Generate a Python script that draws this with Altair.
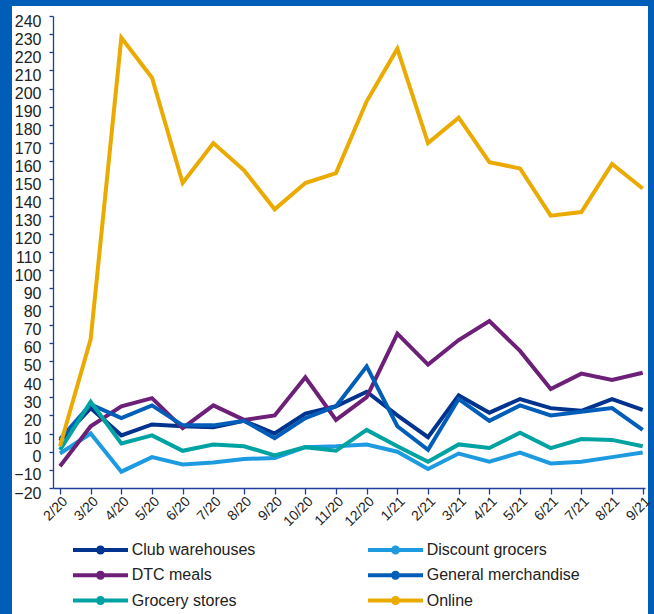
import altair as alt
import pandas as pd

# Month labels on the x axis
months = ["2/20", "3/20", "4/20", "5/20", "6/20", "7/20", "8/20", "9/20", "10/20",
          "11/20", "12/20", "1/21", "2/21", "3/21", "4/21", "5/21", "6/21", "7/21",
          "8/21", "9/21"]

# Channel series (% change)
club_warehouses = [6, 24, 9, 15, 14, 13.5, 17, 10, 21, 25, 33, 20, 8, 31, 21.5, 29, 24, 22.5, 29, 23]
discount_grocers = [-1, 10, -11, -3, -7, -6, -4, -3.5, 2.5, 3, 4, 0, -9.5, -1, -5.5, -0.5, -6.5, -5.5, -3, -0.5]
dtc_meals = [-8, 14, 25, 29.5, 13, 25.5, 17.5, 20, 41, 17.5, 30, 65, 48, 61.5, 72, 55.5, 34.5, 43, 39.5, 43.5]
general_merchandise = [7, 26, 18.5, 25.5, 14.5, 14.5, 17, 7.5, 18.5, 25, 47, 14, 1, 29, 17, 25.5, 20, 22, 24, 12]
grocery_stores = [1, 27.5, 4.5, 9, 0.5, 4, 3, -2, 2.5, 0.5, 12, 3, -5.5, 4, 2, 10.5, 2, 7, 6.5, 3]
online = [3, 62, 228, 206, 148, 170, 155, 133.5, 148, 153.5, 193, 222, 170, 184, 159.5, 156, 130, 132, 158.5, 145]

series_names = ["Club warehouses", "Discount grocers", "DTC meals",
                "General merchandise", "Grocery stores", "Online"]
series_values = [club_warehouses, discount_grocers, dtc_meals,
                 general_merchandise, grocery_stores, online]
series_colors = ["#00338D", "#1E9BE0", "#6D2077", "#005EB8", "#00A3A1", "#EAAA00"]

# Legend fills its grid column by column, so list the names in that order
legend_order = [0, 2, 4, 1, 3, 5]
domain = [series_names[i] for i in legend_order]
palette = [series_colors[i] for i in legend_order]

y_ticks = list(range(-20, 241, 10))

rows = []
for name, vals in zip(series_names, series_values):
    for m, v in zip(months, vals):
        rows.append({"month": m, "channel": name, "value": v})
df = pd.DataFrame(rows)

FONT = "Liberation Sans"
AXIS_BLUE = "#1F3F99"
TEXT = "#222222"
FRAME = "#005EB8"

# Legend symbol: a short line with a dot in the middle (filled outline)
legend_symbol = ("M-1,-0.18L4,-0.18L4,0.18L-1,0.18Z"
                 "M1.09,0A0.41,0.41 0 1,1 1.91,0A0.41,0.41 0 1,1 1.09,0Z")

x_enc = alt.X("month:O", sort=months,
              scale=alt.Scale(type="point", padding=0.1516, align=0.753),
              axis=alt.Axis(title=None, labelAngle=-45, labelAlign="right",
                            labelBaseline="middle", tickSize=6, labelPadding=5,
                            labelOffset=5,
                            labelFontSize=14, labelFont=FONT, labelColor=TEXT,
                            domainColor=AXIS_BLUE, tickColor=AXIS_BLUE,
                            domainWidth=1.3, tickWidth=1.3, grid=False, zindex=1))
y_enc = alt.Y("value:Q", scale=alt.Scale(domain=[-20, 240], nice=False, zero=False),
              axis=alt.Axis(title=None, values=y_ticks, tickSize=4, labelPadding=8,
                            labelOffset=5,
                            labelFontSize=16, labelFont=FONT, labelColor=TEXT,
                            domainColor=AXIS_BLUE, tickColor=AXIS_BLUE,
                            domainWidth=1.3, tickWidth=1.3, grid=False, zindex=1))
color_scale = alt.Scale(domain=domain, range=palette)

# White panel inside the blue frame
panel = alt.Chart(alt.Data(values=[{}])).mark_rect(
    color="white", clip=False
).encode(
    x=alt.value(-41), x2=alt.value(595), y=alt.value(-10), y2=alt.value(598)
)

# Invisible points carry the legend
legend_points = alt.Chart(df).mark_circle(opacity=0, size=1).encode(
    x=x_enc, y=y_enc,
    color=alt.Color("channel:N", scale=color_scale, sort=domain,
                    legend=alt.Legend(title=None, orient="none", legendX=20, legendY=523,
                                      columns=2, columnPadding=112, rowPadding=6.3,
                                      symbolType=legend_symbol, symbolSize=484,
                                      symbolOpacity=1, symbolStrokeWidth=0,
                                      labelFontSize=16, labelFont=FONT, labelColor=TEXT,
                                      labelOffset=36.7, padding=0))
)

lines = alt.Chart(df).mark_line(strokeWidth=4, strokeJoin="miter").encode(
    x=x_enc, y=y_enc,
    color=alt.Color("channel:N", scale=color_scale, sort=domain, legend=None),
    detail="channel:N"
)

chart = alt.layer(panel, legend_points, lines).properties(
    width=592, height=472,
    background=FRAME,
    padding={"left": 53, "top": 16, "right": 9, "bottom": 126},
    autosize=alt.AutoSizeParams(type="none"),
).configure_view(stroke=None)

chart.save("out.html", embed_options={"renderer": "svg", "actions": False})
